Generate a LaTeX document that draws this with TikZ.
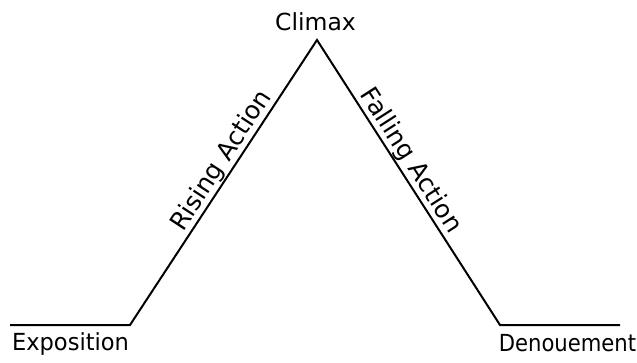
\documentclass[tikz,border=0pt]{standalone}
\usepackage{fontspec}
\setmainfont{DejaVu Sans}
\newfontfamily\expofont[FakeStretch=0.96]{DejaVu Sans}
\newfontfamily\denofont[FakeStretch=0.9]{DejaVu Sans}
\begin{document}
\begin{tikzpicture}[x=1pt,y=-1pt,
  arc/.style={line width=2pt,line join=miter},
  lbl/.style={font=\fontsize{23.5}{27}\selectfont,inner sep=0pt},
  slbl/.style={font=\fontsize{25}{29}\selectfont,inner sep=1pt,sloped,anchor=south}]
\useasboundingbox (0,0) rectangle (637,362);
\coordinate (s) at (10,325);
\coordinate (a) at (130,325);
\coordinate (p) at (317,40);
\coordinate (b) at (500,325);
\coordinate (e) at (620,325);
\draw[arc] (s) -- (a) -- (p) -- (b) -- (e);
\node[lbl,anchor=base] (expo) at (70.5,350) {\expofont Exposition};
\node[lbl,anchor=base] (deno) at (567.5,351) {\denofont Denouement};
\node[lbl,anchor=base] (clim) at (315.5,30) {Climax};
\path (a) -- (p) node[slbl,pos=0.55] (rise) {Rising Action};
\path (p) -- (b) node[slbl,pos=0.45] (fall) {Falling Action};
\end{tikzpicture}
\end{document}
